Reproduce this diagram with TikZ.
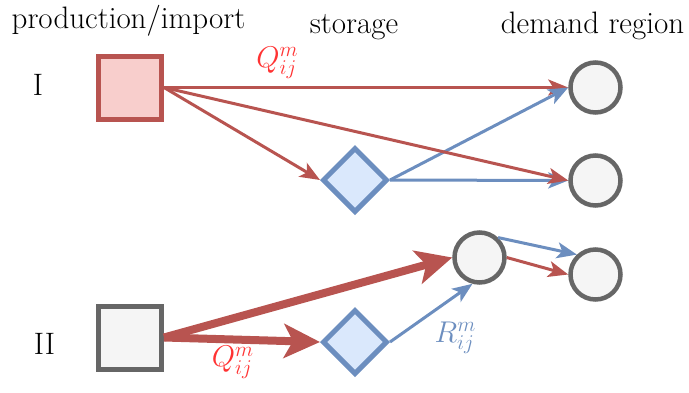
\RequirePackage{fix-cm}
\documentclass[tikz,border=0pt]{standalone}
\usetikzlibrary{arrows.meta,positioning,shapes.geometric}

\definecolor{redline}{HTML}{B85450}
\definecolor{redfill}{HTML}{F8CECC}
\definecolor{blueline}{HTML}{6C8EBF}
\definecolor{bluefill}{HTML}{DAE8FC}
\definecolor{grayline}{HTML}{666666}
\definecolor{grayfill}{HTML}{F5F5F5}
\definecolor{qred}{HTML}{FF3333}

\begin{document}
\begin{tikzpicture}[
  x=1pt, y=-1pt,
  head/.style={anchor=base, inner sep=0pt, font=\fontsize{31}{36}\selectfont},
  src/.style={rectangle, draw=#1line, fill=#1fill, line width=5pt, minimum size=63pt, inner sep=0pt},
  sto/.style={diamond, draw=blueline, fill=bluefill, line width=5pt, minimum width=65pt, minimum height=65pt, inner sep=0pt},
  dem/.style={circle, draw=grayline, fill=grayfill, line width=4.5pt, minimum size=50pt, inner sep=0pt},
  flow/.style={font=\fontsize{30}{36}\selectfont, inner sep=0pt},
  thin/.style={draw=#1, line width=3pt, -{Stealth[length=20pt, width=16pt, inset=5pt]}},
  thick/.style={draw=redline, line width=8pt, -{Stealth[length=36pt, width=34pt, inset=9pt]}}
]
\useasboundingbox (0,0) rectangle (689,392);

% column titles and row labels
\node[head] (tprod) at (128.5,28) {production/import};
\node[head] (tsto) at (354,33) {storage};
\node[head] (tdem) at (592.5,33) {demand region};
\node[head] (rowI) at (38,95) {I};
\node[head] (rowII) at (44.5,354) {II};

% producers, storages, demand regions
\node[src=red] (pI) at (130,87.5) {};
\node[src=gray] (pII) at (130,337.5) {};
\node[sto] (sI) at (355,180) {};
\node[sto] (sII) at (355,342) {};
\node[dem] (d1) at (595.5,87.5) {};
\node[dem] (d2) at (595.5,180.5) {};
\node[dem] (d3) at (479.5,257.5) {};
\node[dem] (d4) at (595.5,274.5) {};

% upper chain
\draw[thin=redline] (pI.east) -- node[flow, pos=0.28, yshift=25pt, text=qred] {$Q^m_{ij}$} (d1.west);
\draw[thin=redline] (pI.east) -- (sI.west);
\draw[thin=blueline] (sI.east) -- (d1.west);
\draw[thin=blueline] (sI.east) -- (d2.west);
\draw[thin=redline] (pI.east) -- (d2.west);

% lower chain
\draw[thick] (pII.east) -- (d3.west);
\draw[thick] (pII.east) -- node[flow, pos=0.44, yshift=-23pt, text=qred] {$Q^m_{ij}$} (sII.west);
\draw[thin=blueline] (sII.east) -- node[flow, xshift=24pt, yshift=-25pt, text=blueline] {$R^m_{ij}$} (d3.255);
\draw[thin=blueline] (d3.47) -- (d4.133);
\draw[thin=redline] (d3.east) -- (d4.west);
\end{tikzpicture}
\end{document}
